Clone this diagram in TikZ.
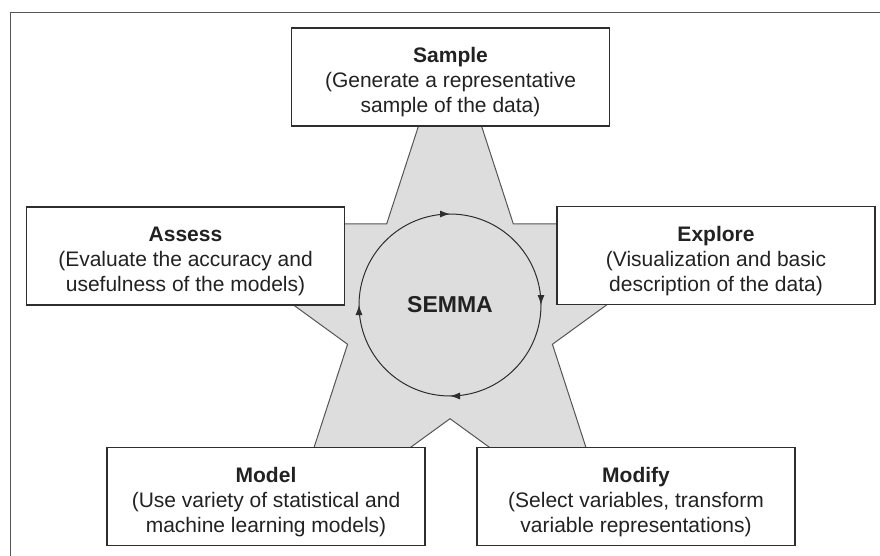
\documentclass[tikz,border=0pt]{standalone}
\usepackage{fontspec}
\setmainfont{Liberation Sans}
\usetikzlibrary{arrows.meta, decorations.markings}

\newcommand{\titlestrut}{\rule{0pt}{26pt}}

\tikzset{
    stepbox/.style={draw=borderColour, line width=1.3pt, fill=white, text=textColour,
        minimum width=318pt, minimum height=98pt, inner sep=0pt, align=center,
        font=\fontsize{21}{25}\selectfont},
    cycleline/.style={draw=borderColour, line width=1pt, postaction={decorate},
        decoration={markings,
            mark=at position 0.125 with {\arrow{Latex[length=10pt,width=7pt]}},
            mark=at position 0.375 with {\arrow{Latex[length=10pt,width=7pt]}},
            mark=at position 0.625 with {\arrow{Latex[length=10pt,width=7pt]}},
            mark=at position 0.875 with {\arrow{Latex[length=10pt,width=7pt]}}}},
    frameline/.style={draw=frameColour, line width=1pt}
}

\begin{document}
\begin{tikzpicture}[x=1pt, y=1pt]
    % Define star and cycle sizes
    \def\outerRadius{282}
    \def\innerRadius{107.7}
    \def\cycleRadius{91}

    \definecolor{borderColour}{HTML}{2E2E2E}
    \definecolor{frameColour}{HTML}{555555}
    \definecolor{starColour}{HTML}{DDDDDD}
    \definecolor{starBorder}{HTML}{555555}
    \definecolor{textColour}{HTML}{222222}

    % Fix the picture size
    \useasboundingbox (0,0) rectangle (880,-556);

    % Draw frame lines
    \draw[frameline] (10,-556) -- (10,-13) -- (880,-13);

    % Define the centre of the star
    \coordinate (center) at (450,-311);

    % Draw the star
    \draw[fill=starColour, draw=starBorder, line width=1pt]
        ([shift={(90:\outerRadius)}]center)
        \foreach \a in {126,198,...,414} {
            -- ([shift={(\a:\innerRadius)}]center) -- ([shift={({\a+36}:\outerRadius)}]center)
        } -- cycle;

    % Draw the cycle
    \node[text=textColour, font=\fontsize{23}{23}\selectfont\bfseries] (semma) at (450,-305) {SEMMA};
    \draw[cycleline] ([shift={(135:\cycleRadius)}]semma.center)
        arc[start angle=135, end angle=-225, radius=\cycleRadius];

    % Draw the steps
    \node[stepbox] (sample) at (450.5,-77) {\titlestrut\textbf{Sample}\\(Generate a representative\\sample of the data)};
    \node[stepbox] (explore) at (716,-255.5) {\titlestrut\textbf{Explore}\\(Visualization and basic\\description of the data)};
    \node[stepbox] (modify) at (636,-496.5) {\titlestrut\textbf{Modify}\\(Select variables, transform\\variable representations)};
    \node[stepbox] (model) at (266,-496.5) {\titlestrut\textbf{Model}\\(Use variety of statistical and\\machine learning models)};
    \node[stepbox] (assess) at (185.5,-256) {\titlestrut\textbf{Assess}\\(Evaluate the accuracy and\\usefulness of the models)};

\end{tikzpicture}
\end{document}
